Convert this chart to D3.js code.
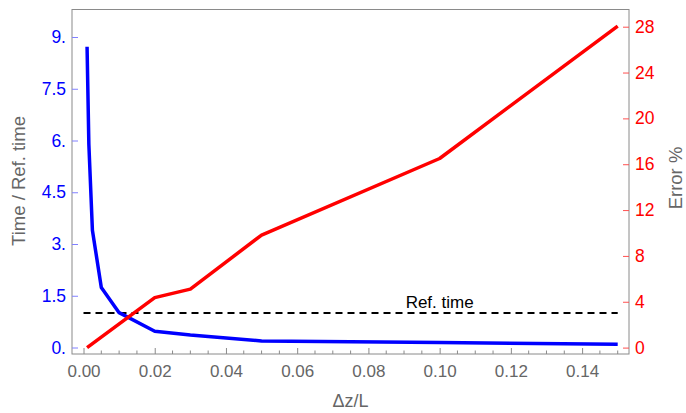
<!DOCTYPE html>
<html>
<head>
<meta charset="utf-8">
<script src="https://cdn.jsdelivr.net/npm/d3@7"></script>
<style>
  body { margin: 0; background: #fff; }
  text { font-family: "Liberation Sans", Arial, sans-serif; }
</style>
</head>
<body>
<div id="chart"></div>
<script>
// data
const timeDz = [0.001, 0.0015, 0.0025, 0.005, 0.01, 0.02, 0.03, 0.05, 0.1, 0.15];
const timeRatio = [8.72, 5.9, 3.4, 1.74, 1.01, 0.47, 0.36, 0.19, 0.145, 0.096];
const errorDz = [0.001, 0.02, 0.03, 0.05, 0.1, 0.15];
const errorPct = [0, 4.36, 5.1, 9.82, 16.5, 28.05];
const refTime = 1;
const xTicks = [0, 0.02, 0.04, 0.06, 0.08, 0.1, 0.12, 0.14];
const xMinor = d3.range(0, 0.1501, 0.005);
const leftTicks = [0, 1.5, 3, 4.5, 6, 7.5, 9];
const leftLabels = ["0.", "1.5", "3.", "4.5", "6.", "7.5", "9."];
const rightTicks = [0, 4, 8, 12, 16, 20, 24, 28];

const W = 686, H = 413;
const L = 72, R = 629, T = 9.5, B = 354;

const svg = d3.select("#chart")
  .append("svg")
  .attr("width", W)
  .attr("height", H);

const x = d3.scaleLinear().domain([-0.00323, 0.15317]).range([L, R]);
const yL = d3.scaleLinear().domain([-0.188, 9.797]).range([B, T]);
const yR = d3.scaleLinear().domain([-0.558, 29.5]).range([B, T]);

// frame
svg.append("rect")
  .attr("x", L).attr("y", T)
  .attr("width", R - L).attr("height", B - T)
  .attr("fill", "none")
  .attr("stroke", "#8a8a8a")
  .attr("stroke-width", 1);

// bottom axis (ticks point inward)
const xAxis = svg.append("g")
  .attr("transform", `translate(0,${B})`)
  .call(d3.axisBottom(x).tickValues(xTicks).tickSizeInner(-6).tickSizeOuter(0)
    .tickFormat(d3.format(".2f")).tickPadding(11));
xAxis.select(".domain").remove();
xAxis.selectAll("line").attr("stroke", "#8a8a8a");
xAxis.selectAll("text").attr("fill", "#666").style("font-size", "17px");
svg.append("g")
  .selectAll("line")
  .data(xMinor.filter(d => Math.abs(d * 50 - Math.round(d * 50)) > 1e-6))
  .enter()
  .append("line")
  .attr("x1", d => x(d)).attr("x2", d => x(d))
  .attr("y1", B).attr("y2", B - 3.5)
  .attr("stroke", "#8a8a8a");

// left axis
const leftAxis = svg.append("g")
  .attr("transform", `translate(${L},0)`)
  .call(d3.axisLeft(yL).tickValues(leftTicks).tickSizeInner(-6).tickSizeOuter(0)
    .tickFormat((d, i) => leftLabels[i]).tickPadding(6));
leftAxis.select(".domain").remove();
leftAxis.selectAll("line").attr("stroke", "#8080ff");
leftAxis.selectAll("text").attr("fill", "#0000ff").style("font-size", "17.5px");

// right axis
const rightAxis = svg.append("g")
  .attr("transform", `translate(${R},0)`)
  .call(d3.axisRight(yR).tickValues(rightTicks).tickSizeInner(-6).tickSizeOuter(0).tickPadding(6));
rightAxis.select(".domain").remove();
rightAxis.selectAll("line").attr("stroke", "#ff5050");
rightAxis.selectAll("text").attr("fill", "#ff0000").style("font-size", "17.5px");

// reference line
svg.append("line")
  .attr("x1", x(0)).attr("x2", x(0.15))
  .attr("y1", yL(refTime)).attr("y2", yL(refTime))
  .attr("stroke", "#000")
  .attr("stroke-width", 2)
  .attr("stroke-dasharray", "7,5");
svg.append("text")
  .attr("x", x(0.1)).attr("y", yL(refTime) - 5)
  .attr("text-anchor", "middle")
  .attr("fill", "#000")
  .style("font-size", "17px")
  .text("Ref. time");

// series
const line = d3.line();
svg.append("path")
  .datum(timeDz.map((d, i) => [x(d), yL(timeRatio[i])]))
  .attr("d", line)
  .attr("fill", "none")
  .attr("stroke", "#0000ff")
  .attr("stroke-width", 3.5)
  .attr("stroke-linejoin", "round");
svg.append("path")
  .datum(errorDz.map((d, i) => [x(d), yR(errorPct[i])]))
  .attr("d", line)
  .attr("fill", "none")
  .attr("stroke", "#ff0000")
  .attr("stroke-width", 3.5)
  .attr("stroke-linejoin", "round");

// titles
svg.append("text")
  .attr("transform", `translate(25,181) rotate(-90)`)
  .attr("text-anchor", "middle")
  .attr("fill", "#666")
  .style("font-size", "18.5px")
  .text("Time / Ref. time");
svg.append("text")
  .attr("transform", `translate(682,178) rotate(-90)`)
  .attr("text-anchor", "middle")
  .attr("fill", "#666")
  .style("font-size", "18.5px")
  .text("Error %");
svg.append("text")
  .attr("x", x(0.075)).attr("y", 407)
  .attr("text-anchor", "middle")
  .attr("fill", "#666")
  .style("font-size", "18px")
  .text("Δz/L");
</script>
</body>
</html>
